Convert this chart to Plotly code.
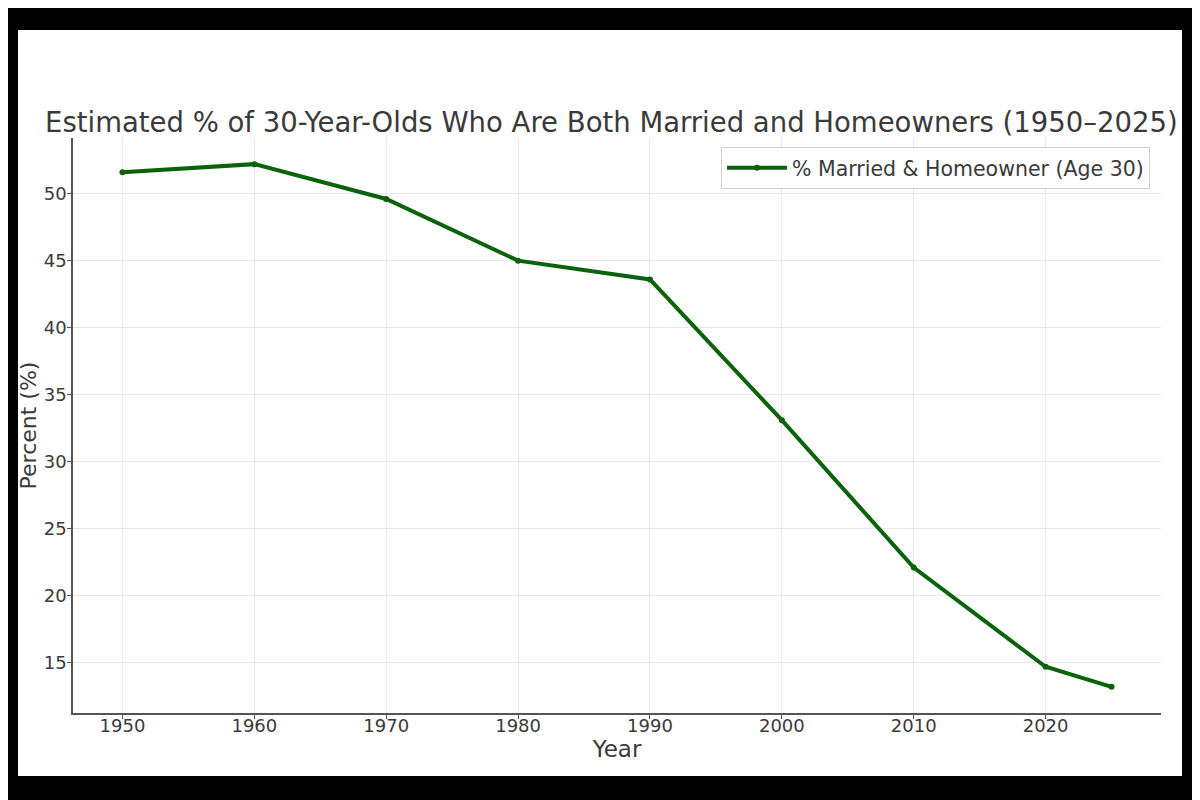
import plotly.graph_objects as go

years = [1950, 1960, 1970, 1980, 1990, 2000, 2010, 2020, 2025]
percent = [51.6, 52.2, 49.6, 45.0, 43.6, 33.1, 22.1, 14.7, 13.2]
series_name = "% Married & Homeowner (Age 30)"
title_text = "Estimated % of 30-Year-Olds Who Are Both Married and Homeowners (1950–2025)"
x_ticks = [1950, 1960, 1970, 1980, 1990, 2000, 2010, 2020]
y_ticks = [15, 20, 25, 30, 35, 40, 45, 50]

OFF = 8  # page offset of the figure inside the browser window
W, H = 1200 - OFF, 800 - OFF
L, R, T, B = 73 - OFF, 1161 - OFF, 138 - OFF, 713 - OFF
pw, ph = R - L, B - T

def px_x(p):
    return (p - OFF - L) / pw

def px_y(p):
    return (B - (p - OFF)) / ph

fig = go.Figure()
fig.add_trace(go.Scatter(
    x=years, y=percent, mode="lines+markers", name=series_name,
    line=dict(color="#0b620b", width=4),
    marker=dict(color="#0b620b", size=6),
))

font_family = "DejaVu Sans"
txt = "#3a3a3a"

fig.update_layout(
    width=W, height=H,
    margin=dict(l=L, r=W - R, t=T, b=H - B, pad=0),
    paper_bgcolor="black",
    plot_bgcolor="white",
    font=dict(family=font_family, color=txt, size=18),
    title=dict(text=title_text, x=(45 - OFF) / W, xref="container", xanchor="left",
               y=1 - (122 - OFF) / H, yref="container", yanchor="middle",
               font=dict(size=27.5, color=txt)),
    showlegend=True,
    legend=dict(x=px_x(1150), y=px_y(147), xanchor="right", yanchor="top",
                bgcolor="white", bordercolor="#d0d0d0", borderwidth=1,
                itemwidth=60,
                font=dict(size=20.5, color=txt)),
    shapes=[dict(type="rect", xref="paper", yref="paper",
                 x0=px_x(18), x1=px_x(1182), y0=px_y(776), y1=px_y(30),
                 fillcolor="white", line=dict(width=0), layer="below")],
)

fig.update_xaxes(
    range=[1946.25, 2028.75], tickvals=x_ticks, ticktext=[str(v) for v in x_ticks],
    showline=True, linecolor="#555555", linewidth=1.5, mirror=False,
    ticks="outside", ticklen=4, tickcolor="#555555",
    ticklabelstandoff=-8,
    showgrid=True, gridcolor="#e8e8e8", gridwidth=1, zeroline=False,
    title=dict(text="Year", font=dict(size=23, color=txt), standoff=0),
    tickfont=dict(size=18, color=txt),
)
fig.update_yaxes(
    range=[11.25, 54.15], tickvals=y_ticks, ticktext=[str(v) for v in y_ticks],
    showline=True, linecolor="#555555", linewidth=1.5, mirror=False,
    ticks="outside", ticklen=4, tickcolor="#555555",
    ticklabelstandoff=-3,
    showgrid=True, gridcolor="#e8e8e8", gridwidth=1, zeroline=False,
    title=dict(text="Percent (%)", font=dict(size=22, color=txt), standoff=1),
    tickfont=dict(size=18, color=txt),
)

fig.write_html("out.html")
